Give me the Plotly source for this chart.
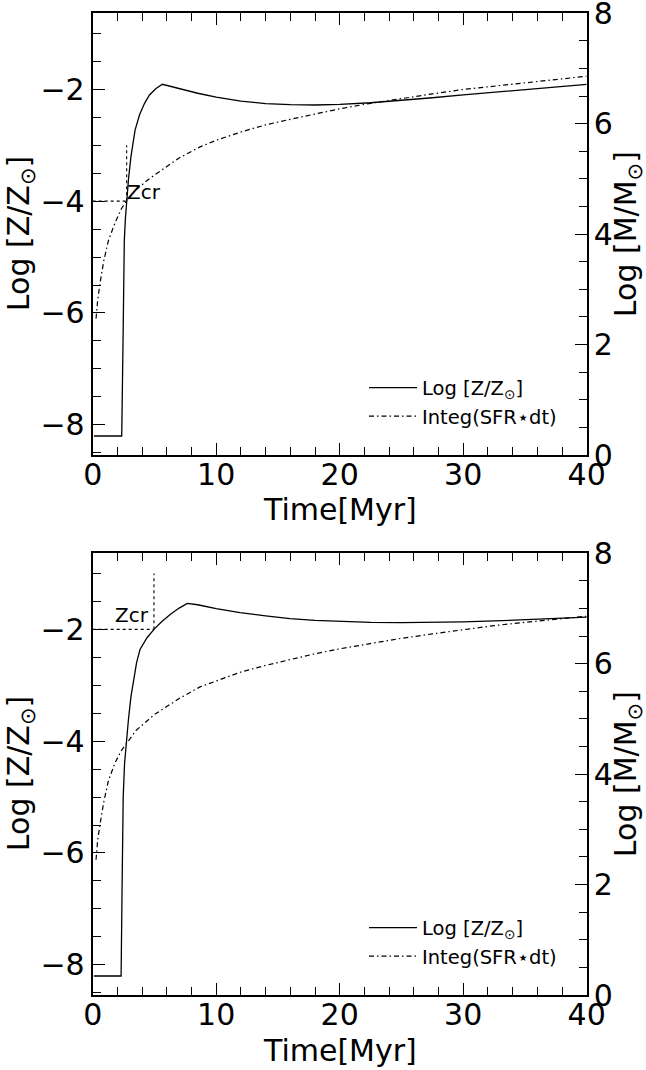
import plotly.graph_objects as go

# ---------------- data ----------------
# top panel: metallicity (left axis) and integrated stellar mass (right axis)
t_top_z = [0.1, 2.35, 2.45, 2.56, 2.65, 2.75, 2.9, 3.1, 3.43, 3.8, 4.2, 4.6, 5.1, 5.64,
           6.5, 7.5, 8.5, 10, 12, 14, 16, 18, 20, 22.5, 25, 27.5, 30, 32.5, 35, 37.5, 40]
logz_top = [-8.2, -8.2, -6.6, -4.7, -4.3, -4.0, -3.6, -3.2, -2.73, -2.45, -2.25, -2.1, -1.99, -1.91,
            -1.96, -2.02, -2.07, -2.14, -2.21, -2.255, -2.275, -2.28, -2.27, -2.24, -2.2, -2.15,
            -2.10, -2.05, -2.0, -1.955, -1.91]
t_top_m = [0.27, 0.4, 0.6, 0.9, 1.27, 1.8, 2.3, 2.75, 3.5, 4.5, 5.45, 7, 8.69, 10, 12, 14, 16,
           18, 20, 22.5, 25, 27.5, 30, 32.5, 35, 37.5, 40]
logm_top = [2.47, 2.8, 3.12, 3.52, 3.88, 4.2, 4.45, 4.61, 4.80, 4.99, 5.14, 5.38, 5.58, 5.70,
            5.85, 5.98, 6.08, 6.18, 6.27, 6.37, 6.46, 6.54, 6.62, 6.68, 6.74, 6.80, 6.86]
t_zcr_top = 2.75
zcr_top = -4.0

# bottom panel
t_bot_z = [0.1, 2.3, 2.38, 2.47, 2.58, 2.7, 2.9, 3.1, 3.29, 3.55, 3.83, 4.4, 4.96, 5.6, 6.3,
           7.0, 7.66, 8.5, 10, 11.93, 14, 15.98, 18, 20, 22.5, 25, 27.5, 30, 32.5, 35, 37.5, 40]
logz_bot = [-8.2, -8.2, -6.6, -5.0, -4.4, -4.07, -3.6, -3.2, -2.91, -2.6, -2.36, -2.15, -2.0,
            -1.86, -1.73, -1.62, -1.535, -1.56, -1.63, -1.70, -1.76, -1.81, -1.84, -1.86, -1.875,
            -1.88, -1.875, -1.865, -1.85, -1.83, -1.805, -1.78]
t_bot_m = [0.27, 0.4, 0.6, 0.9, 1.27, 1.8, 2.3, 2.7, 3.5, 5.0, 7, 8.69, 10.3, 12, 14, 16, 18,
           20, 22.5, 25, 27.5, 30, 32.5, 35, 37.5, 40]
logm_bot = [2.45, 2.8, 3.1, 3.5, 3.88, 4.2, 4.42, 4.55, 4.79, 5.08, 5.37, 5.58, 5.71, 5.85,
            5.97, 6.08, 6.18, 6.27, 6.37, 6.46, 6.54, 6.62, 6.69, 6.75, 6.81, 6.86]
t_zcr_bot = 4.96
zcr_bot = -2.0

x_ticks = [0, 10, 20, 30, 40]
yl_ticks = [-8, -6, -4, -2]
yr_ticks = [0, 2, 4, 6, 8]

name_z = "Log [Z/Z<sub>⊙</sub>]"
name_m = "Integ(SFR⋆dt)"
title_x = "Time[Myr]"
title_yl = "Log [Z/Z<sub>⊙</sub>]"
title_yr = "Log [M/M<sub>⊙</sub>]"

FONT = "DejaVu Sans"
W, H = 646, 1070
X_L, X_R = 92.7, 586.7
TOP_T, TOP_B = 13.3, 455.0
BOT_T, BOT_B = 553.3, 995.0
X_DOM = [X_L / W, X_R / W]
TOP_DOM = [1 - TOP_B / H, 1 - TOP_T / H]
BOT_DOM = [1 - BOT_B / H, 1 - BOT_T / H]
YL_RANGE = [-8.54, -0.64]
YR_RANGE = [0, 8]

fig = go.Figure()

def add_panel(tz, lz, tm, lm, tzcr, zcr, xa, yl, yr, leg):
    fig.add_trace(go.Scatter(x=tz, y=lz, mode="lines", name=name_z, xaxis=xa, yaxis=yl,
                             line=dict(color="black", width=1.3), legend=leg,
                             legendgroup=leg + "a"))
    fig.add_trace(go.Scatter(x=tm, y=lm, mode="lines", name=name_m, xaxis=xa, yaxis=yr,
                             line=dict(color="black", width=1.2, dash="5px,3px,1.5px,3px"),
                             legend=leg, legendgroup=leg + "b"))
    fig.add_trace(go.Scatter(x=[0, tzcr], y=[zcr, zcr], mode="lines", xaxis=xa, yaxis=yl,
                             line=dict(color="black", width=1.1, dash="dot"), showlegend=False))
    fig.add_trace(go.Scatter(x=[tzcr, tzcr], y=[zcr, zcr + 1], mode="lines", xaxis=xa, yaxis=yl,
                             line=dict(color="black", width=1.1, dash="dot"), showlegend=False))

add_panel(t_top_z, logz_top, t_top_m, logm_top, t_zcr_top, zcr_top, "x", "y", "y2", "legend")
add_panel(t_bot_z, logz_bot, t_bot_m, logm_bot, t_zcr_bot, zcr_bot, "x2", "y3", "y4", "legend2")

tickfont = dict(family=FONT, size=30, color="black")
common = dict(showline=True, linewidth=2, linecolor="black", ticks="inside", ticklen=12,
              tickwidth=1.3, tickcolor="black", showgrid=False, zeroline=False, tickfont=tickfont,
              automargin=False, ticklabeloverflow="allow")
minor_common = dict(ticks="inside", ticklen=8, tickwidth=1.1, tickcolor="black", showgrid=False)

def xaxis(anchor):
    return dict(common, domain=X_DOM, anchor=anchor, range=[0, 40], tickvals=x_ticks,
                mirror="ticks", minor=dict(minor_common, dtick=2), ticklabelstandoff=-8)

def yleft(anchor, dom):
    return dict(common, domain=dom, anchor=anchor, range=YL_RANGE, tickvals=yl_ticks,
                minor=dict(minor_common, dtick=0.5), ticklabelstandoff=0)

def yright(anchor, over, dom):
    return dict(common, domain=dom, anchor=anchor, overlaying=over, side="right", range=YR_RANGE,
                tickvals=yr_ticks, minor=dict(minor_common, dtick=0.5), ticklabelstandoff=-1)

legend_common = dict(font=dict(family=FONT, size=19.5, color="black"), bgcolor="rgba(0,0,0,0)",
                     borderwidth=0, itemwidth=48, xanchor="left", yanchor="middle",
                     tracegroupgap=0, traceorder="grouped")

title_font = dict(family=FONT, size=30, color="black")

def titles(top, bottom):
    mid = (top + bottom) / 2
    return [
        dict(text=title_x, x=(X_L + X_R) / 2 / W, y=1 - (bottom + 55) / H, xref="paper",
             yref="paper", xanchor="center", yanchor="middle", showarrow=False, font=title_font),
        dict(text=title_yl, x=20 / W, y=1 - mid / H, xref="paper", yref="paper", textangle=-90,
             xanchor="center", yanchor="middle", showarrow=False, font=title_font),
        dict(text=title_yr, x=627 / W, y=1 - mid / H, xref="paper", yref="paper", textangle=-90,
             xanchor="center", yanchor="middle", showarrow=False, font=title_font),
    ]

annotations = titles(TOP_T, TOP_B) + titles(BOT_T, BOT_B) + [
    dict(text="Zcr", x=t_zcr_top, y=zcr_top, xref="x", yref="y", xanchor="left",
         yanchor="bottom", showarrow=False, xshift=-2, yshift=-5,
         font=dict(family=FONT, size=20, color="black")),
    dict(text="Zcr", x=t_zcr_bot, y=zcr_bot, xref="x2", yref="y3", xanchor="right",
         yanchor="bottom", showarrow=False, xshift=-3, yshift=0,
         font=dict(family=FONT, size=20, color="black")),
]

fig.update_layout(
    width=W, height=H, margin=dict(l=0, r=0, t=0, b=0, autoexpand=False),
    paper_bgcolor="white", plot_bgcolor="white",
    font=dict(family=FONT, color="black"),
    xaxis=xaxis("y"),
    yaxis=yleft("x", TOP_DOM),
    yaxis2=yright("x", "y", TOP_DOM),
    xaxis2=xaxis("y3"),
    yaxis3=yleft("x2", BOT_DOM),
    yaxis4=yright("x2", "y3", BOT_DOM),
    legend=dict(legend_common, x=364 / W, y=1 - 402 / H),
    legend2=dict(legend_common, x=364 / W, y=1 - 942 / H),
    annotations=annotations,
)

fig.write_html("out.html", config={"displayModeBar": False},
               post_script="document.body.style.margin='0px';")
